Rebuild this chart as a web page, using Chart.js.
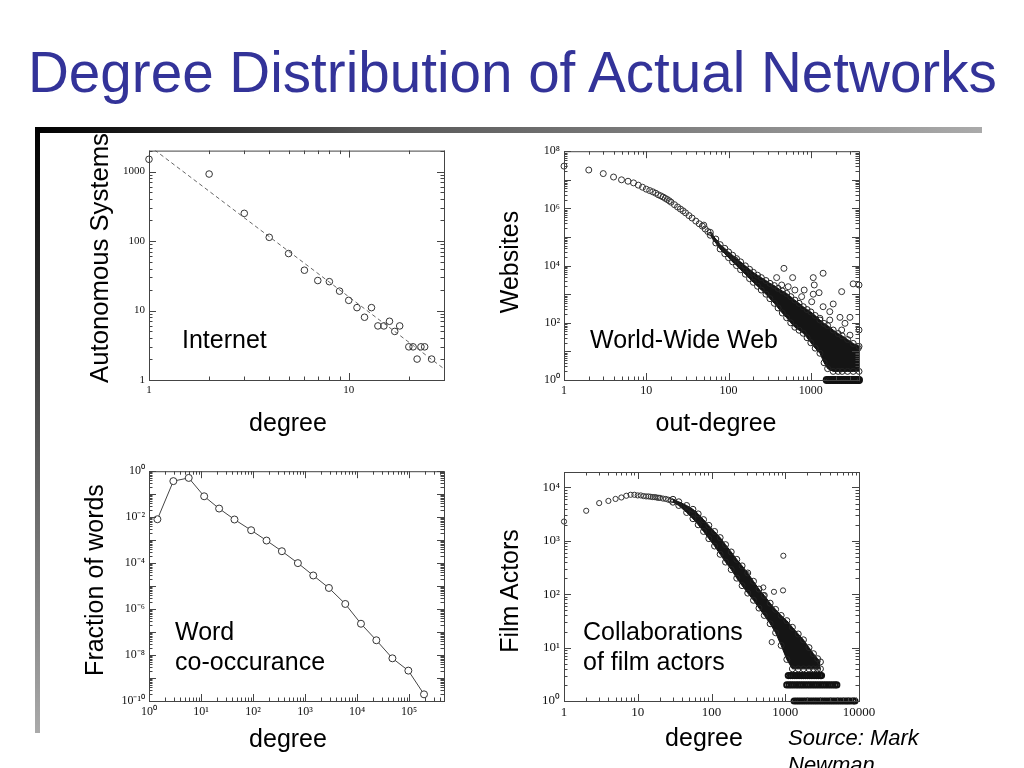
<!DOCTYPE html>
<html>
<head>
<meta charset="utf-8">
<title>Degree Distribution of Actual Networks</title>
<script src="https://cdn.jsdelivr.net/npm/chart.js@4.4.1/dist/chart.umd.min.js"></script>
<style>
  body { margin: 0; background: #fff; }
  #slide { position: relative; width: 1024px; height: 768px; overflow: hidden; font-family: "Liberation Sans", Arial, sans-serif; color: #000; }
  #title { position: absolute; left: 28px; top: 45px; font-size: 56.6px; line-height: 1; color: #333399; white-space: nowrap; }
  #barTop { position: absolute; left: 35px; top: 127px; width: 947px; height: 6px; background: linear-gradient(to right, #000, #555 35%, #aaa); }
  #barLeft { position: absolute; left: 35px; top: 127px; width: 5px; height: 606px; background: linear-gradient(to bottom, #000, #aaa); }
  canvas { position: absolute; }
  .txt { position: absolute; font-size: 25px; line-height: 1; white-space: nowrap; }
  .ctr { transform: translateX(-50%); }
  .vt { transform: translate(-50%, -50%) rotate(-90deg); }
  #source { position: absolute; left: 788px; top: 724px; font-size: 22px; line-height: 27px; font-style: italic; }
</style>
</head>
<body>
<div id="slide">
  <div id="title">Degree Distribution of Actual Networks</div>
  <div id="barTop"></div>
  <div id="barLeft"></div>

  <canvas id="internet" width="345" height="270" style="left:110px;top:140px"></canvas>
  <canvas id="www" width="350" height="270" style="left:520px;top:140px"></canvas>
  <canvas id="words" width="365" height="270" style="left:90px;top:460px"></canvas>
  <canvas id="actors" width="370" height="270" style="left:515px;top:460px"></canvas>

  <div class="txt vt" style="left:100px;top:258px;font-size:25.7px">Autonomous Systems</div>
  <div class="txt ctr" style="left:288px;top:410px">degree</div>
  <div class="txt" style="left:182px;top:327px">Internet</div>

  <div class="txt vt" style="left:509px;top:262px">Websites</div>
  <div class="txt ctr" style="left:716px;top:410px">out-degree</div>
  <div class="txt" style="left:590px;top:327px">World-Wide Web</div>

  <div class="txt vt" style="left:94px;top:580px">Fraction of words</div>
  <div class="txt ctr" style="left:288px;top:726px">degree</div>
  <div class="txt" style="left:175px;top:619px">Word</div>
  <div class="txt" style="left:175px;top:649px">co-occurance</div>

  <div class="txt vt" style="left:509px;top:591px">Film Actors</div>
  <div class="txt ctr" style="left:704px;top:725px">degree</div>
  <div class="txt" style="left:583px;top:619px">Collaborations</div>
  <div class="txt" style="left:583px;top:649px">of film actors</div>

  <div id="source">Source: Mark<br>Newman</div>
</div>
<script>
// Internet: autonomous systems by degree
const internetDegree = [1, 2, 3, 4, 5, 6, 7, 8, 9, 10, 11, 12, 13, 14, 15, 16, 17, 18, 20, 21, 22, 23, 24, 26];
const internetCount = [1500, 920, 250, 113, 66, 38, 27, 26, 19, 14, 11, 8, 11, 6, 6, 7, 5, 6, 3, 3, 2, 3, 3, 2];
const internetFitX = [1, 30];
const internetFitY = [2350, 1.45];

// World-Wide Web: websites by out-degree
const wwwDegree = [1, 2, 3, 4, 5, 6, 7, 8, 9, 10, 11, 12, 13, 14, 15, 16, 17, 18, 19, 20, 22, 24, 26, 28, 30, 33, 36, 40, 44, 48, 52, 56];
const wwwCount = [3e7, 2.2e7, 1.65e7, 1.25e7, 1.0e7, 8.9e6, 7.8e6, 6.5e6, 5.5e6, 4.7e6, 4.2e6, 3.8e6, 3.4e6, 3.0e6, 2.75e6, 2.5e6, 2.25e6, 2.05e6, 1.85e6, 1.65e6, 1.35e6, 1.12e6, 9.5e5, 8.2e5, 7.0e5, 5.6e5, 4.6e5, 3.6e5, 2.9e5, 2.4e5, 1.9e5, 1.55e5];
const wwwBandX = [60, 70, 79, 90, 100, 112, 125, 140, 160, 180, 200, 225, 250, 285, 318, 360, 400, 450, 508, 570, 640, 720, 809, 900, 1000, 1130, 1290, 1450, 1600, 1870, 2150, 2400, 2800, 3275, 3850];
const wwwBandUpper = [1.45e5, 8.5e4, 5.4e4, 4.0e4, 3.0e4, 2.3e4, 1.75e4, 1.35e4, 9.8e3, 7.4e3, 5.8e3, 4.6e3, 3.8e3, 3.0e3, 2.4e3, 2.0e3, 1.6e3, 1.3e3, 1.07e3, 820, 620, 480, 365, 290, 240, 180, 125, 95, 80, 56, 42, 35, 26, 19, 15];
const wwwBandLower = [1.15e5, 6.2e4, 3.8e4, 2.6e4, 1.9e4, 1.35e4, 1.0e4, 7.2e3, 5.0e3, 3.5e3, 2.6e3, 1.9e3, 1.4e3, 1.0e3, 700, 480, 330, 220, 150, 100, 70, 55, 43, 30, 20, 13, 8.6, 4, 2.5, 2, 2, 2, 2, 2, 2];
const wwwOutX = [50, 120, 471, 384, 601, 1070, 1410, 442, 531, 640, 830, 1100, 1260, 1070, 2370, 3270, 3850, 773, 1025, 1410, 1870, 1700, 2260, 2990, 2600, 2370, 2990, 3770, 1290, 890, 1700, 3850];
const wwwOutY = [2.6e5, 1.57e4, 8.0e3, 3.8e3, 3.8e3, 3.8e3, 5.4e3, 2.1e3, 1.83e3, 1.4e3, 1.4e3, 2.1e3, 1.13e3, 1.0e3, 1.23e3, 2.3e3, 2.1e3, 820, 545, 365, 455, 245, 155, 155, 96, 56, 37, 13, 144, 144, 125, 56];
const wwwRowX = [1560, 1650, 1750, 1860, 1970, 2090, 2220, 2350, 2490, 2640, 2800, 2970, 3150, 3340, 3540, 3750, 3850];
const wwwRowY = 1;

// Word co-occurrence
const wordDegree = [1.45, 2.94, 5.8, 11.5, 22.3, 44, 92, 182, 359, 729, 1440, 2880, 5940, 11900, 23500, 47900, 97000, 194000];
const wordFraction = [8.1e-3, 0.37, 0.51, 0.081, 0.0237, 7.9e-3, 2.7e-3, 9.6e-4, 3.3e-4, 1.0e-4, 2.9e-5, 8.3e-6, 1.67e-6, 2.3e-7, 4.4e-8, 7.2e-9, 2.1e-9, 1.95e-10];

// Film actor collaborations
const filmDegree = [1, 2, 3, 4, 5, 6, 7, 8, 9, 10, 11, 12, 13, 14, 15, 16, 17, 18, 19, 20, 22, 24, 26, 28];
const filmCount = [2.3e3, 3.66e3, 5.1e3, 5.6e3, 6.1e3, 6.5e3, 7.0e3, 7.3e3, 7.3e3, 7.1e3, 7.1e3, 6.9e3, 6.8e3, 6.8e3, 6.7e3, 6.6e3, 6.6e3, 6.5e3, 6.4e3, 6.4e3, 6.2e3, 6.1e3, 5.9e3, 5.7e3];
const filmBandX = [30, 36, 46, 56, 66, 78, 92, 110, 131, 155, 185, 220, 260, 310, 371, 440, 520, 624, 740, 880, 1050, 1250, 1500, 1766, 2100, 2413, 2750, 3000];
const filmBandUpper = [6.0e3, 5.4e3, 4.6e3, 3.9e3, 3.2e3, 2.5e3, 1.95e3, 1.5e3, 1.15e3, 850, 620, 450, 340, 250, 175, 125, 95, 68, 52, 40, 32, 24, 18, 14, 10, 7.7, 6.2, 5.4];
const filmBandLower = [5.3e3, 4.6e3, 3.4e3, 2.6e3, 2.0e3, 1.5e3, 1.1e3, 800, 560, 400, 290, 200, 145, 105, 77, 55, 40, 28, 19, 11, 6, 4, 4, 4, 4, 4, 4, 4];
const filmOutX = [300, 504, 510, 703, 933, 942, 655];
const filmOutY = [242, 134, 95, 111, 118, 526, 12.7];
const filmRow3X = [1100, 1180, 1260, 1350, 1440, 1540, 1650, 1760, 1880, 2010, 2150, 2300, 2460, 2630, 2810, 3000, 3100];
const filmRow2X = [1050, 1130, 1210, 1300, 1400, 1500, 1610, 1730, 1860, 2000, 2150, 2310, 2480, 2660, 2860, 3070, 3300, 3550, 3810, 4090, 4400, 4720, 5000];
const filmRow1X = [1320, 1420, 1520, 1630, 1750, 1880, 2020, 2170, 2330, 2500, 2680, 2880, 3090, 3320, 3560, 3820, 4100, 4400, 4720, 5070, 5440, 5840, 6270, 6730, 7160, 7700, 8380, 8800];
const filmRowY = [3, 2, 1];

// tick labels
const internetXTicks = [1, 10];
const internetYTicks = [1, 10, 100, 1000];
const wwwXTicks = [1, 10, 100, 1000];
const wwwYTicks = [1, 1e2, 1e4, 1e6, 1e8];
const wordXTicks = [1, 10, 1e2, 1e3, 1e4, 1e5];
const wordYTicks = [1e-10, 1e-8, 1e-6, 1e-4, 1e-2, 1];
const filmXTicks = [1, 10, 100, 1000, 10000];
const filmYTicks = [1, 10, 100, 1000, 1e4];

const SUP = { '-': '⁻', 0: '⁰', 1: '¹', 2: '²', 3: '³', 4: '⁴', 5: '⁵', 6: '⁶', 7: '⁷', 8: '⁸', 9: '⁹' };
const plain = v => String(v);
const power = v => '10' + String(Math.round(Math.log10(v))).split('').map(c => SUP[c]).join('');
const pts = (xs, ys) => xs.map((x, i) => ({ x, y: Array.isArray(ys) ? ys[i] : ys }));

function logMarks(min, max) {
  const out = [];
  for (let e = Math.floor(Math.log10(min)); e <= Math.ceil(Math.log10(max)); e++) {
    for (let m = 1; m < 10; m++) {
      const v = m * Math.pow(10, e);
      if (v >= min * 0.999 && v <= max * 1.001) out.push([v, m === 1 ? 7 : 3.5]);
    }
  }
  return out;
}

// frame with inward ticks on all four sides
const frameTicks = {
  id: 'frameTicks',
  afterDatasetsDraw(chart) {
    const { ctx, chartArea: a, scales: { x, y } } = chart;
    ctx.save();
    ctx.strokeStyle = '#444';
    ctx.lineWidth = 1;
    ctx.strokeRect(a.left + 0.5, a.top + 0.5, a.right - a.left, a.bottom - a.top);
    ctx.beginPath();
    logMarks(x.min, x.max).forEach(([v, len]) => {
      const px = Math.round(x.getPixelForValue(v)) + 0.5;
      ctx.moveTo(px, a.bottom); ctx.lineTo(px, a.bottom - len);
      ctx.moveTo(px, a.top); ctx.lineTo(px, a.top + len);
    });
    logMarks(y.min, y.max).forEach(([v, len]) => {
      const py = Math.round(y.getPixelForValue(v)) + 0.5;
      ctx.moveTo(a.left, py); ctx.lineTo(a.left + len, py);
      ctx.moveTo(a.right, py); ctx.lineTo(a.right - len, py);
    });
    ctx.stroke();
    ctx.restore();
  }
};

function logAxis(min, max, tickValues, label, size, fit, vertical) {
  return {
    type: 'logarithmic', min, max,
    grid: { display: false, drawTicks: false },
    border: { display: false },
    afterBuildTicks: s => { s.ticks = tickValues.map(v => ({ value: v })); },
    afterFit: s => { if (vertical) s.width = fit; else s.height = fit; },
    ticks: {
      autoSkip: false, maxRotation: 0, padding: 4, color: '#111',
      font: { family: '"Liberation Serif", "Times New Roman", serif', size },
      callback: v => label(v)
    }
  };
}

const ring = (data, r, extra) => Object.assign({
  data, showLine: false, pointStyle: 'circle', pointRadius: r, pointBorderWidth: 1,
  pointBorderColor: '#333', pointBackgroundColor: 'rgba(0,0,0,0)', clip: false
}, extra || {});

const band = (data, fill) => ({
  data, showLine: true, borderColor: '#111', borderWidth: 1, fill,
  backgroundColor: '#151515', pointRadius: 3, pointBorderWidth: 1,
  pointBorderColor: '#222', pointBackgroundColor: 'rgba(0,0,0,0)', clip: false
});

function makePlot(id, area, datasets, xAxis, yAxis) {
  const c = document.getElementById(id);
  const left = c.offsetLeft, top = c.offsetTop;
  const xHeight = top + c.height - area[3];
  const yWidth = area[0] - left;
  return new Chart(c, {
    type: 'scatter',
    data: { datasets },
    options: {
      responsive: false, animation: false,
      layout: { padding: { left: 0, bottom: 0, top: area[1] - top, right: left + c.width - area[2] } },
      plugins: { legend: { display: false }, tooltip: { enabled: false } },
      scales: {
        x: logAxis(xAxis[0], xAxis[1], xAxis[2], xAxis[3], xAxis[4], xHeight, false),
        y: logAxis(yAxis[0], yAxis[1], yAxis[2], yAxis[3], yAxis[4], yWidth, true)
      }
    },
    plugins: [frameTicks]
  });
}

makePlot('internet', [149, 149, 444, 380], [
  { data: pts(internetFitX, internetFitY), showLine: true, borderColor: '#666', borderWidth: 1, borderDash: [4, 3], pointRadius: 0 },
  ring(pts(internetDegree, internetCount), 3.3)
], [1, 30, internetXTicks, plain, 11], [1, 2000, internetYTicks, plain, 11]);

makePlot('www', [564, 151, 859, 380], [
  band(pts(wwwBandX, wwwBandUpper), false),
  band(pts(wwwBandX, wwwBandLower), '-1'),
  ring(pts(wwwDegree, wwwCount), 3),
  ring(pts(wwwOutX, wwwOutY), 3),
  ring(pts(wwwRowX, wwwRowY), 3, { pointBorderWidth: 2, pointBorderColor: '#111' })
], [1, 3850, wwwXTicks, plain, 12], [1, 1e8, wwwYTicks, power, 12]);

makePlot('words', [149, 471, 444, 701], [
  ring(pts(wordDegree, wordFraction), 3.5, { showLine: true, borderColor: '#444', borderWidth: 1, pointBackgroundColor: '#fff' })
], [1, 4.7e5, wordXTicks, power, 12], [1e-10, 1, wordYTicks, power, 12]);

const rowStyle = { pointBorderWidth: 2, pointBorderColor: '#111' };
makePlot('actors', [564, 472, 859, 701], [
  band(pts(filmBandX, filmBandUpper), false),
  band(pts(filmBandX, filmBandLower), '-1'),
  ring(pts(filmDegree, filmCount), 2.6),
  ring(pts(filmOutX, filmOutY), 2.6),
  ring(pts(filmRow3X, filmRowY[0]), 2.6, rowStyle),
  ring(pts(filmRow2X, filmRowY[1]), 2.6, rowStyle),
  ring(pts(filmRow1X, filmRowY[2]), 2.6, rowStyle)
], [1, 10000, filmXTicks, plain, 13], [1, 1.95e4, filmYTicks, power, 13]);
</script>
</body>
</html>
